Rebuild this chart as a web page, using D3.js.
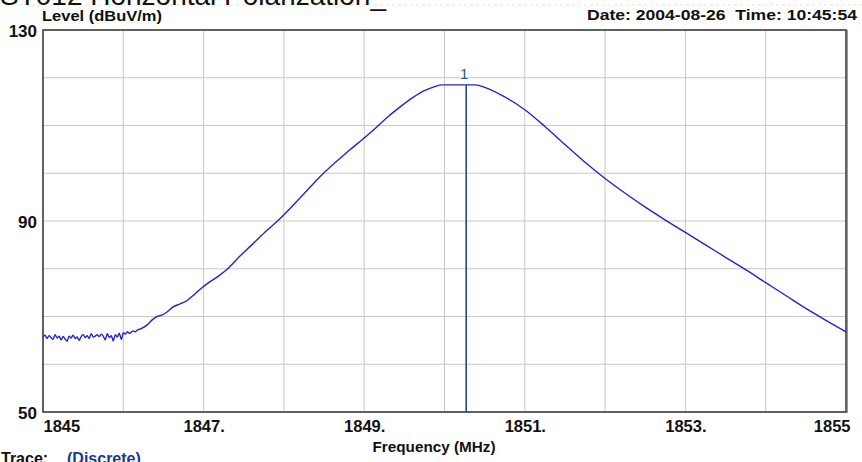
<!DOCTYPE html>
<html>
<head>
<meta charset="utf-8">
<script src="https://cdn.jsdelivr.net/npm/d3@7"></script>
<style>
  html, body { margin: 0; padding: 0; background: #ffffff; }
  svg { display: block; }
  text { font-family: "Liberation Sans", Arial, sans-serif; }
</style>
</head>
<body>
<svg id="chart" width="862" height="462"></svg>
<script>
// ---------- data ----------
const xTickValues = [1845, 1847, 1849, 1851, 1853, 1855];
const xTickLabels = ["1845", "1847.", "1849.", "1851.", "1853.", "1855"];
const yTickValues = [130, 90, 50];
const yTickLabels = ["130", "90", "50"];

// noise floor section (MHz, dBuV/m)
const noiseFreq = [1845.000, 1845.025, 1845.050, 1845.075, 1845.100, 1845.125, 1845.150, 1845.175, 1845.200, 1845.225,
                   1845.250, 1845.275, 1845.300, 1845.325, 1845.350, 1845.375, 1845.400, 1845.425, 1845.450, 1845.475,
                   1845.500, 1845.525, 1845.550, 1845.575, 1845.600, 1845.625, 1845.650, 1845.675, 1845.700, 1845.725,
                   1845.750, 1845.775, 1845.800, 1845.825, 1845.850, 1845.875, 1845.900, 1845.925, 1845.950, 1845.975,
                   1846.000, 1846.025, 1846.050, 1846.075, 1846.100, 1846.125, 1846.150, 1846.175, 1846.200];
const noiseLevel = [65.7, 66.1, 65.4, 66.0, 65.6, 65.2, 66.2, 65.5, 65.9, 65.1,
                    65.8, 65.3, 64.8, 65.9, 65.5, 66.1, 65.4, 65.7, 65.0, 65.8,
                    66.2, 65.6, 66.0, 65.4, 66.4, 65.7, 65.9, 66.2, 65.8, 66.3,
                    65.9, 65.1, 66.4, 65.6, 66.0, 64.9, 66.2, 65.7, 66.5, 65.2,
                    66.6, 66.3, 66.8, 66.5, 66.7, 67.0, 66.8, 67.2, 67.3];

// resonance section
const peakFreq = [1846.24, 1846.30, 1846.36, 1846.42, 1846.48, 1846.54, 1846.62, 1846.70, 1846.79, 1846.87,
                  1846.95, 1847.08, 1847.18, 1847.30, 1847.45, 1847.60, 1847.76, 1847.92, 1848.20, 1848.48,
                  1848.80, 1849.00, 1849.15, 1849.30, 1849.44, 1849.60, 1849.75, 1849.87, 1849.97, 1850.39,
                  1850.50, 1850.75, 1851.00, 1851.25, 1851.50, 1851.75, 1852.00, 1852.25, 1852.50, 1852.75,
                  1853.00, 1853.25, 1853.50, 1853.75, 1854.00, 1854.25, 1854.50, 1854.75, 1855.00];
const peakLevel = [67.6, 68.3, 69.3, 70.0, 70.3, 70.9, 72.0, 72.6, 73.3, 74.4,
                   75.6, 77.3, 78.4, 80.0, 82.6, 85.0, 87.6, 90.0, 94.8, 99.8,
                   104.6, 107.4, 109.6, 111.9, 113.8, 115.8, 117.3, 118.1, 118.5, 118.5,
                   118.0, 116.0, 113.3, 109.8, 106.0, 102.3, 98.9, 95.8, 92.9, 90.2,
                   87.6, 85.0, 82.4, 79.8, 77.1, 74.4, 71.7, 69.2, 66.8];

const markerFreq = 1850.27;
const markerLevel = 118.5;
const markerLabel = "1";

// ---------- layout ----------
const svg = d3.select("#chart");
const pLeft = 43, pRight = 846, pTop = 30, pBottom = 412;

const x = d3.scaleLinear().domain([1845, 1855]).range([pLeft, pRight]);
const y = d3.scaleLinear().domain([50, 130]).range([pBottom, pTop]);

// title (clipped at top, as in the source screenshot)
svg.append("line").attr("x1", 20).attr("x2", 862).attr("y1", 5).attr("y2", 5)
  .attr("stroke", "#e2e2e2").attr("stroke-width", 1).attr("stroke-dasharray", "3,3");
svg.append("text").attr("x", 0).attr("y", 5)
  .attr("font-size", 28).attr("fill", "#111")
  .text("ST012 Horizontal Polarization_");

// grid
const gridX = d3.range(1846, 1855, 1);
const gridY = d3.range(60, 130, 10);
svg.append("g").selectAll("line").data(gridX).join("line")
  .attr("x1", d => x(d)).attr("x2", d => x(d)).attr("y1", pTop).attr("y2", pBottom)
  .attr("stroke", "#c8c8c8").attr("stroke-width", 1);
svg.append("g").selectAll("line").data(gridY).join("line")
  .attr("x1", pLeft).attr("x2", pRight).attr("y1", d => y(d)).attr("y2", d => y(d))
  .attr("stroke", "#c8c8c8").attr("stroke-width", 1);

// trace
const pts = noiseFreq.map((f, i) => [f, noiseLevel[i]])
  .concat(peakFreq.map((f, i) => [f, peakLevel[i]]));
svg.append("path").datum(pts)
  .attr("fill", "none").attr("stroke", "#2424c8").attr("stroke-width", 1.4)
  .attr("d", d3.line().curve(d3.curveMonotoneX).x(d => x(d[0])).y(d => y(d[1])));

// marker
svg.append("line")
  .attr("x1", x(markerFreq)).attr("x2", x(markerFreq))
  .attr("y1", y(markerLevel)).attr("y2", pBottom)
  .attr("stroke", "#24506e").attr("stroke-width", 1.6);
svg.append("text").attr("x", x(markerFreq) - 2).attr("y", y(markerLevel) - 6)
  .attr("text-anchor", "middle").attr("font-size", 15).attr("fill", "#2a5a80")
  .text(markerLabel);

// frame
svg.append("rect").attr("x", pLeft).attr("y", pTop)
  .attr("width", pRight - pLeft).attr("height", pBottom - pTop)
  .attr("fill", "none").attr("stroke", "#3a3a3a").attr("stroke-width", 1.6);
svg.append("line").attr("x1", pRight + 1.5).attr("x2", pRight + 1.5).attr("y1", pTop).attr("y2", pBottom + 1)
  .attr("stroke", "#999").attr("stroke-width", 1);

// axes labels
const xAxisG = svg.append("g").attr("transform", `translate(0,${pBottom})`)
  .call(d3.axisBottom(x).tickValues(xTickValues).tickSize(0)
    .tickFormat((d, i) => xTickLabels[i]));
xAxisG.select(".domain").remove();
xAxisG.selectAll("text")
  .attr("font-family", "Liberation Sans, Arial, sans-serif")
  .attr("font-size", 16.5).attr("font-weight", "bold").attr("fill", "#111")
  .attr("dy", 0).attr("y", 20)
  .attr("text-anchor", (d, i) => i === 0 ? "start" : (i === xTickValues.length - 1 ? "end" : "middle"))
  .attr("dx", (d, i) => i === 0 ? 0 : (i === xTickValues.length - 1 ? 4 : 0));

const yAxisG = svg.append("g").attr("transform", `translate(${pLeft},0)`)
  .call(d3.axisLeft(y).tickValues(yTickValues).tickSize(0)
    .tickFormat((d, i) => yTickLabels[i]));
yAxisG.select(".domain").remove();
yAxisG.selectAll("text")
  .attr("font-family", "Liberation Sans, Arial, sans-serif")
  .attr("font-size", 17).attr("font-weight", "bold").attr("fill", "#111")
  .attr("x", -6).attr("dy", 0).attr("y", 6);

svg.append("text").attr("x", 42).attr("y", 21)
  .attr("font-size", 15.5).attr("font-weight", "bold").attr("fill", "#111")
  .attr("textLength", 120).attr("lengthAdjust", "spacingAndGlyphs")
  .text("Level (dBuV/m)");
svg.append("text").attr("x", 857).attr("y", 20).attr("text-anchor", "end")
  .attr("font-size", 15.5).attr("font-weight", "bold").attr("fill", "#111")
  .attr("xml:space", "preserve")
  .attr("textLength", 270).attr("lengthAdjust", "spacingAndGlyphs")
  .text("Date: 2004-08-26  Time: 10:45:54");
svg.append("text").attr("x", 434).attr("y", 452).attr("text-anchor", "middle")
  .attr("font-size", 15.5).attr("font-weight", "bold").attr("fill", "#111")
  .attr("textLength", 123).attr("lengthAdjust", "spacingAndGlyphs")
  .text("Frequency (MHz)");

svg.append("text").attr("x", 1).attr("y", 464)
  .attr("font-size", 16).attr("font-weight", "bold").attr("fill", "#111")
  .text("Trace:");
svg.append("text").attr("x", 67).attr("y", 464)
  .attr("font-size", 16).attr("font-weight", "bold").attr("fill", "#1a3a8a")
  .text("(Discrete)");
</script>
</body>
</html>
